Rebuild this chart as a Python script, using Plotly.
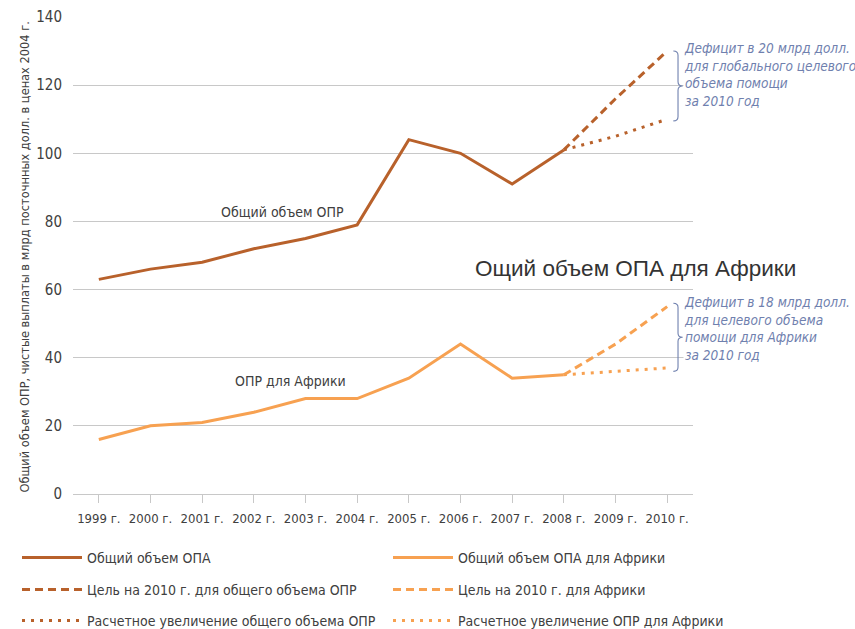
import plotly.graph_objects as go

years = [1999, 2000, 2001, 2002, 2003, 2004, 2005, 2006, 2007, 2008]
year_labels = ["1999 г.", "2000 г.", "2001 г.", "2002 г.", "2003 г.", "2004 г.",
               "2005 г.", "2006 г.", "2007 г.", "2008 г.", "2009 г.", "2010 г."]
tick_years = list(range(1999, 2011))

total_oda = [63, 66, 68, 72, 75, 79, 104, 100, 91, 101]
africa_oda = [16, 20, 21, 24, 28, 28, 34, 44, 34, 35]

proj_years = [2008, 2009, 2010]
total_target = [101, 116, 130]
total_estimate = [101, 105, 110]
africa_target = [35, 44, 55]
africa_estimate = [35, 36, 37]

DARK = "#B8612B"
LIGHT = "#F7A151"
NOTE = "#6F80AE"
FONT = "DejaVu Sans Condensed, Liberation Sans Narrow, sans-serif"
TXT = "#404040"

fig = go.Figure()

traces = [
    (years, total_oda, "Общий объем ОПА", DARK, "solid", "legend2"),
    (years, africa_oda, "Общий объем ОПА для Африки", LIGHT, "solid", "legend5"),
    (proj_years, total_target, "Цель на 2010 г. для общего объема ОПР", DARK, "8px,5px", "legend3"),
    (proj_years, africa_target, "Цель на 2010 г. для Африки", LIGHT, "8px,5px", "legend6"),
    (proj_years, total_estimate, "Расчетное увеличение общего объема ОПР", DARK, "3px,6px", "legend4"),
    (proj_years, africa_estimate, "Расчетное увеличение ОПР для Африки", LIGHT, "3px,6px", "legend7"),
]
for x, y, name, color, dash, lg in traces:
    fig.add_trace(go.Scatter(x=x, y=y, mode="lines", name=name,
                             line=dict(color=color, width=3, dash=dash), legend=lg))

def brace(x0, x1, ytop, ybot):
    ym = (ytop + ybot) / 2
    xm = (x0 + x1) / 2
    d = (ytop - ybot) * 0.06
    return (f"M {x0},{ytop} Q {xm},{ytop} {xm},{ytop - d} L {xm},{ym + d} "
            f"Q {xm},{ym} {x1},{ym} Q {xm},{ym} {xm},{ym - d} L {xm},{ybot + d} "
            f"Q {xm},{ybot} {x0},{ybot}")

shapes = [
    dict(type="path", xref="x", yref="y", path=brace(2010.12, 2010.3, 130, 109.5),
         line=dict(color=NOTE, width=1.1)),
    dict(type="path", xref="x", yref="y", path=brace(2010.12, 2010.3, 56, 36),
         line=dict(color=NOTE, width=1.1)),
]

def leg(xpx, ypx):
    return dict(orientation="v", xref="container", yref="container", x=xpx / 855,
                y=1 - ypx / 629, xanchor="left", yanchor="middle", itemwidth=60,
                font=dict(family=FONT, size=14, color=TXT), bgcolor="rgba(0,0,0,0)",
                borderwidth=0, itemclick=False, itemdoubleclick=False)

y_title = "Общий объем ОПР, чистые выплаты в млрд посточнных долл. в ценах 2004 г."

annotations = [
    dict(x=2010.3, y=133.5, xref="x", yref="y", xanchor="left", yanchor="top", align="left",
         showarrow=False, bgcolor="white", borderpad=0,
         text="<i>Дефицит в 20 млрд долл.<br>для глобального целевого<br>объема помощи<br>за 2010 год</i>",
         font=dict(family=FONT, size=13.5, color=NOTE)),
    dict(x=2010.3, y=59, xref="x", yref="y", xanchor="left", yanchor="top", align="left",
         showarrow=False, bgcolor="white", borderpad=0,
         text="<i>Дефицит в 18 млрд долл.<br>для целевого объема<br>помощи для Африки<br>за 2010 год</i>",
         font=dict(family=FONT, size=13.5, color=NOTE)),
    dict(x=2002.55, y=82.8, xref="x", yref="y", showarrow=False, text="Общий объем ОПР",
         font=dict(family=FONT, size=14, color=TXT)),
    dict(x=2002.7, y=33.2, xref="x", yref="y", showarrow=False, text="ОПР для Африки",
         font=dict(family=FONT, size=14, color=TXT)),
    dict(x=2009.38, y=66.3, xref="x", yref="y", showarrow=False, text="Ощий объем ОПА для Африки",
         font=dict(family="Liberation Sans, Arial, sans-serif", size=22.5, color="#333333")),
    dict(x=-0.0935, y=0.497, xref="paper", yref="paper", showarrow=False, textangle=-90,
         text=y_title, font=dict(family=FONT, size=12.7, color=TXT)),
]

fig.update_layout(
    width=855, height=629,
    margin=dict(l=73, r=162, t=17, b=135, autoexpand=False),
    plot_bgcolor="white", paper_bgcolor="white",
    font=dict(family=FONT, color=TXT),
    xaxis=dict(range=[1998.5, 2010.5], tickvals=tick_years, ticktext=year_labels,
               showgrid=False, zeroline=False, showline=True, linecolor="#c8c8c8", linewidth=1,
               ticks="outside", ticklen=8, tickcolor="#c8c8c8", tickangle=0, ticklabelstandoff=4,
               tickfont=dict(family=FONT, size=13, color=TXT)),
    yaxis=dict(range=[0, 140], dtick=20, showgrid=True, gridcolor="#c8c8c8", gridwidth=1,
               zeroline=False, showline=False, ticks="", ticklabelstandoff=10,
               tickfont=dict(family=FONT, size=15, color=TXT)),
    shapes=shapes,
    annotations=annotations,
    legend2=leg(17, 558),
    legend3=leg(17, 590),
    legend4=leg(17, 621),
    legend5=leg(388, 558),
    legend6=leg(388, 590),
    legend7=leg(388, 621),
)

fig.write_html("out.html", config={"displayModeBar": False},
               post_script="document.body.style.margin='0';document.body.style.overflow='hidden';")
